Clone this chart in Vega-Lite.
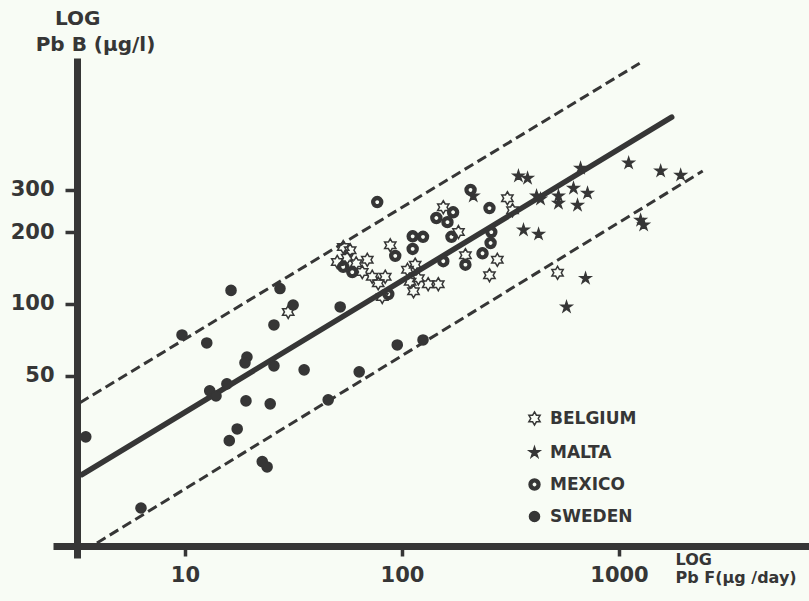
{
  "$schema": "https://vega.github.io/schema/vega-lite/v6.json",
  "width": 756,
  "height": 500,
  "autosize": {"type": "none"},
  "padding": {"left": 53, "top": 58, "right": 0, "bottom": 43},
  "background": "#f8fcf5",
  "title": {
    "text": "LOG",
    "anchor": "start",
    "orient": "top",
    "frame": "group",
    "offset": 7,
    "dx": 2,
    "dy": 18,
    "baseline": "alphabetic",
    "font": "DejaVu Sans",
    "fontWeight": "bold",
    "fontSize": 20,
    "color": "#363636"
  },
  "config": {
    "view": {"stroke": null},
    "font": "DejaVu Sans",
    "axis": {
      "grid": false,
      "domainColor": "#363636",
      "tickColor": "#363636",
      "labelColor": "#363636",
      "titleColor": "#363636",
      "labelFont": "DejaVu Sans",
      "labelFontWeight": "bold",
      "labelFontSize": 21,
      "titleFont": "DejaVu Sans",
      "titleFontWeight": "bold"
    }
  },
  "datasets": {
    "fits": [
      {"line": "fit", "PbF": 3.35, "PbB": 19.3},
      {"line": "fit", "PbF": 1749, "PbB": 605},
      {"line": "upper", "PbF": 3.28, "PbB": 38.6},
      {"line": "upper", "PbF": 1245, "PbB": 1017},
      {"line": "lower", "PbF": 3.93, "PbB": 10.0},
      {"line": "lower", "PbF": 2431, "PbB": 360}
    ],
    "points": [
      {"country": "SWEDEN", "PbF": 3.49, "PbB": 27.8},
      {"country": "SWEDEN", "PbF": 6.27, "PbB": 14.0},
      {"country": "SWEDEN", "PbF": 9.69, "PbB": 74.2},
      {"country": "SWEDEN", "PbF": 12.6, "PbB": 68.7},
      {"country": "SWEDEN", "PbF": 16.3, "PbB": 114},
      {"country": "SWEDEN", "PbF": 27.4, "PbB": 116},
      {"country": "SWEDEN", "PbF": 31.5, "PbB": 99},
      {"country": "SWEDEN", "PbF": 25.7, "PbB": 81.7},
      {"country": "SWEDEN", "PbF": 19.3, "PbB": 60.0},
      {"country": "SWEDEN", "PbF": 18.9, "PbB": 56.7},
      {"country": "SWEDEN", "PbF": 25.7, "PbB": 55.1},
      {"country": "SWEDEN", "PbF": 35.4, "PbB": 53.0},
      {"country": "SWEDEN", "PbF": 13.0, "PbB": 43.3},
      {"country": "SWEDEN", "PbF": 13.9, "PbB": 41.2},
      {"country": "SWEDEN", "PbF": 15.6, "PbB": 46.3},
      {"country": "SWEDEN", "PbF": 19.1, "PbB": 39.3},
      {"country": "SWEDEN", "PbF": 24.7, "PbB": 38.2},
      {"country": "SWEDEN", "PbF": 17.4, "PbB": 30.0},
      {"country": "SWEDEN", "PbF": 16.0, "PbB": 26.8},
      {"country": "SWEDEN", "PbF": 22.7, "PbB": 21.9},
      {"country": "SWEDEN", "PbF": 23.9, "PbB": 20.8},
      {"country": "SWEDEN", "PbF": 45.7, "PbB": 39.7},
      {"country": "SWEDEN", "PbF": 63.5, "PbB": 52.0},
      {"country": "SWEDEN", "PbF": 95.1, "PbB": 67.4},
      {"country": "SWEDEN", "PbF": 125, "PbB": 70.7},
      {"country": "SWEDEN", "PbF": 51.9, "PbB": 97.2},
      {"country": "MEXICO", "PbF": 76.9, "PbB": 267},
      {"country": "MEXICO", "PbF": 207, "PbB": 300},
      {"country": "MEXICO", "PbF": 172, "PbB": 242},
      {"country": "MEXICO", "PbF": 144, "PbB": 229},
      {"country": "MEXICO", "PbF": 162, "PbB": 220},
      {"country": "MEXICO", "PbF": 112, "PbB": 192},
      {"country": "MEXICO", "PbF": 125, "PbB": 191},
      {"country": "MEXICO", "PbF": 112, "PbB": 170},
      {"country": "MEXICO", "PbF": 93.1, "PbB": 159},
      {"country": "MEXICO", "PbF": 169, "PbB": 191},
      {"country": "MEXICO", "PbF": 155, "PbB": 151},
      {"country": "MEXICO", "PbF": 253, "PbB": 252},
      {"country": "MEXICO", "PbF": 258, "PbB": 200},
      {"country": "MEXICO", "PbF": 256, "PbB": 180},
      {"country": "MEXICO", "PbF": 235, "PbB": 163},
      {"country": "MEXICO", "PbF": 196, "PbB": 146},
      {"country": "MEXICO", "PbF": 86.5, "PbB": 110},
      {"country": "MEXICO", "PbF": 53.6, "PbB": 143},
      {"country": "MEXICO", "PbF": 59.0, "PbB": 136},
      {"country": "BELGIUM", "PbF": 53.6, "PbB": 173},
      {"country": "BELGIUM", "PbF": 57.7, "PbB": 168},
      {"country": "BELGIUM", "PbF": 50.3, "PbB": 150},
      {"country": "BELGIUM", "PbF": 55.9, "PbB": 156},
      {"country": "BELGIUM", "PbF": 61.5, "PbB": 148},
      {"country": "BELGIUM", "PbF": 69.2, "PbB": 153},
      {"country": "BELGIUM", "PbF": 65.6, "PbB": 136},
      {"country": "BELGIUM", "PbF": 72.9, "PbB": 130},
      {"country": "BELGIUM", "PbF": 77.7, "PbB": 122},
      {"country": "BELGIUM", "PbF": 83.7, "PbB": 130},
      {"country": "BELGIUM", "PbF": 81.1, "PbB": 107},
      {"country": "BELGIUM", "PbF": 88.3, "PbB": 176},
      {"country": "BELGIUM", "PbF": 106, "PbB": 139},
      {"country": "BELGIUM", "PbF": 115, "PbB": 146},
      {"country": "BELGIUM", "PbF": 109, "PbB": 124},
      {"country": "BELGIUM", "PbF": 119, "PbB": 128},
      {"country": "BELGIUM", "PbF": 132, "PbB": 121},
      {"country": "BELGIUM", "PbF": 147, "PbB": 121},
      {"country": "BELGIUM", "PbF": 113, "PbB": 113},
      {"country": "BELGIUM", "PbF": 155, "PbB": 254},
      {"country": "BELGIUM", "PbF": 182, "PbB": 200},
      {"country": "BELGIUM", "PbF": 196, "PbB": 160},
      {"country": "BELGIUM", "PbF": 275, "PbB": 153},
      {"country": "BELGIUM", "PbF": 253, "PbB": 132},
      {"country": "BELGIUM", "PbF": 521, "PbB": 135},
      {"country": "BELGIUM", "PbF": 29.9, "PbB": 92.6},
      {"country": "BELGIUM", "PbF": 306, "PbB": 277},
      {"country": "BELGIUM", "PbF": 323, "PbB": 247},
      {"country": "MALTA", "PbF": 213, "PbB": 283},
      {"country": "MALTA", "PbF": 344, "PbB": 343},
      {"country": "MALTA", "PbF": 379, "PbB": 336},
      {"country": "MALTA", "PbF": 417, "PbB": 283},
      {"country": "MALTA", "PbF": 435, "PbB": 275},
      {"country": "MALTA", "PbF": 526, "PbB": 283},
      {"country": "MALTA", "PbF": 526, "PbB": 264},
      {"country": "MALTA", "PbF": 617, "PbB": 305},
      {"country": "MALTA", "PbF": 644, "PbB": 259},
      {"country": "MALTA", "PbF": 716, "PbB": 291},
      {"country": "MALTA", "PbF": 665, "PbB": 370},
      {"country": "MALTA", "PbF": 1108, "PbB": 389},
      {"country": "MALTA", "PbF": 1556, "PbB": 360},
      {"country": "MALTA", "PbF": 1924, "PbB": 346},
      {"country": "MALTA", "PbF": 1258, "PbB": 224},
      {"country": "MALTA", "PbF": 1299, "PbB": 214},
      {"country": "MALTA", "PbF": 701, "PbB": 128},
      {"country": "MALTA", "PbF": 573, "PbB": 97.2},
      {"country": "MALTA", "PbF": 363, "PbB": 204},
      {"country": "MALTA", "PbF": 426, "PbB": 196}
    ]
  },
  "encoding": {
    "x": {
      "field": "PbF",
      "type": "quantitative",
      "scale": {"type": "log", "domain": [2.465, 7508], "nice": false},
      "axis": {
        "values": [10, 100, 1000],
        "format": "d",
        "offset": -12,
        "domainWidth": 7,
        "tickWidth": 3.5,
        "tickSize": 10,
        "labelPadding": 8,
        "title": ["LOG", "Pb F(μg /day)"],
        "titleFontSize": 16,
        "titleLineHeight": 18,
        "titleX": 622,
        "titleY": 18,
        "titleAlign": "left",
        "titleAnchor": "start",
        "titleBaseline": "alphabetic"
      }
    },
    "y": {
      "field": "PbB",
      "type": "quantitative",
      "scale": {"type": "log", "domain": [8.65, 1070], "nice": false},
      "axis": {
        "values": [50, 100, 200, 300],
        "format": "d",
        "offset": -24,
        "domainWidth": 7,
        "tickWidth": 3.5,
        "tickSize": 12,
        "labelPadding": 11,
        "title": "Pb B (μg/l)",
        "titleFontSize": 20,
        "titleAngle": 0,
        "titleAlign": "center",
        "titleX": 18,
        "titleY": -8,
        "titleBaseline": "alphabetic"
      }
    }
  },
  "layer": [
    {
      "data": {"name": "fits"},
      "transform": [{"filter": "datum.line == 'fit'"}],
      "mark": {"type": "line", "stroke": "#363636", "strokeWidth": 5.5, "strokeCap": "round"}
    },
    {
      "data": {"name": "fits"},
      "transform": [{"filter": "datum.line != 'fit'"}],
      "mark": {"type": "line", "stroke": "#363636", "strokeWidth": 3, "strokeDash": [10, 5]},
      "encoding": {"detail": {"field": "line", "type": "nominal"}}
    },
    {
      "data": {"name": "points"},
      "mark": {"type": "point", "filled": true, "stroke": "#363636", "strokeWidth": 1.5, "opacity": 1, "fillOpacity": 1, "size": 196},
      "encoding": {
        "shape": {
          "field": "country",
          "type": "nominal",
          "scale": {
            "domain": ["BELGIUM", "MALTA", "MEXICO", "SWEDEN"],
            "range": [
              "M0,-0.93L0.268,-0.465L0.805,-0.465L0.537,0L0.805,0.465L0.268,0.465L0,0.93L-0.268,0.465L-0.805,0.465L-0.537,0L-0.805,-0.465L-0.268,-0.465Z",
              "M0,-0.79L0.176,-0.243L0.751,-0.244L0.285,0.093L0.464,0.639L0,0.3L-0.464,0.639L-0.285,0.093L-0.751,-0.244L-0.176,-0.243Z",
              "M0.78,0A0.78,0.78 0 1,1 -0.78,0A0.78,0.78 0 1,1 0.78,0ZM0.38,0A0.38,0.38 0 1,0 -0.38,0A0.38,0.38 0 1,0 0.38,0Z",
              "M0.72,0A0.72,0.72 0 1,1 -0.72,0A0.72,0.72 0 1,1 0.72,0Z"
            ]
          },
          "legend": {
            "orient": "none",
            "legendX": 473,
            "legendY": 352,
            "title": null,
            "padding": 0,
            "labelFont": "DejaVu Sans",
            "labelFontWeight": "bold",
            "labelFontSize": 17,
            "labelColor": "#363636",
            "labelOffset": 7,
            "rowPadding": 14,
            "symbolSize": 196,
            "symbolStrokeColor": "#363636",
            "symbolStrokeWidth": 1.5,
            "symbolOpacity": 1,
            "encode": {
              "symbols": {
                "update": {
                  "stroke": {"value": "#363636"},
                  "strokeWidth": {"value": 1.5},
                  "size": {"value": 196}
                }
              }
            }
          }
        },
        "fill": {
          "field": "country",
          "type": "nominal",
          "scale": {
            "domain": ["BELGIUM", "MALTA", "MEXICO", "SWEDEN"],
            "range": ["transparent", "#363636", "#363636", "#363636"]
          },
          "legend": {
            "orient": "none",
            "legendX": 473,
            "legendY": 352,
            "title": null,
            "padding": 0,
            "labelFont": "DejaVu Sans",
            "labelFontWeight": "bold",
            "labelFontSize": 17,
            "labelColor": "#363636",
            "labelOffset": 7,
            "rowPadding": 14,
            "symbolSize": 196,
            "symbolStrokeColor": "#363636",
            "symbolStrokeWidth": 1.5,
            "symbolOpacity": 1,
            "encode": {
              "symbols": {
                "update": {
                  "stroke": {"value": "#363636"},
                  "strokeWidth": {"value": 1.5},
                  "size": {"value": 196}
                }
              }
            }
          }
        }
      }
    }
  ]
}
